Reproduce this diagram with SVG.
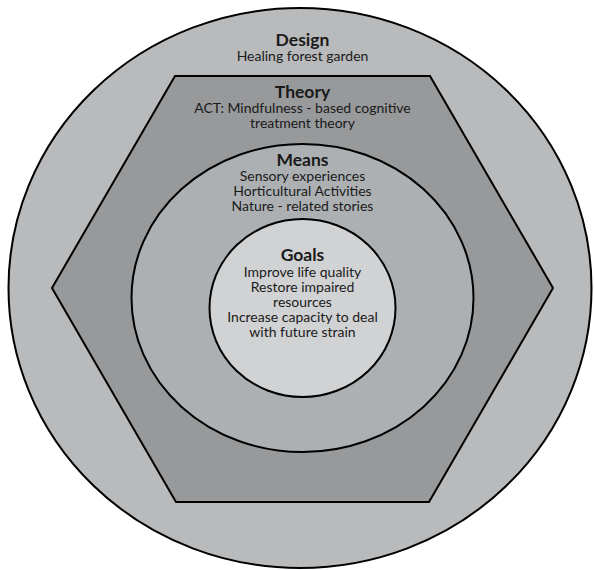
<svg xmlns="http://www.w3.org/2000/svg" width="594" height="570" viewBox="0 0 594 570">
<style>
.shape{stroke:#000;stroke-width:2}
.t{font-family:Lato,"Open Sans","DejaVu Sans",sans-serif;text-anchor:middle;fill:#1a1a1a}
.h{font-size:17.5px;font-weight:bold}
.b{font-size:14px}
</style>
<rect width="594" height="570" fill="#fff"/>
<g id="design">
<ellipse class="shape" cx="300" cy="288" rx="291.5" ry="280" fill="#b9babc"/>
<text class="t h" x="302.5" y="46">Design</text>
<text class="t b" x="302.5" y="61">Healing forest garden</text>
</g>
<g id="theory">
<polygon class="shape" points="175,76 430,76 553,288 429,502 176,502 52,288" fill="#97999b"/>
<text class="t h" x="302.5" y="98">Theory</text>
<text class="t b" x="302.5" y="113">ACT: Mindfulness - based cognitive</text>
<text class="t b" x="302.5" y="127.5">treatment theory</text>
</g>
<g id="means">
<ellipse class="shape" cx="302.5" cy="298" rx="171" ry="154" fill="#adb0b2"/>
<text class="t h" x="302.5" y="166">Means</text>
<text class="t b" x="302.5" y="181">Sensory experiences</text>
<text class="t b" x="302.5" y="196">Horticultural Activities</text>
<text class="t b" x="302.5" y="211">Nature - related stories</text>
</g>
<g id="goals">
<ellipse class="shape" cx="302.5" cy="308" rx="93" ry="89" fill="#d1d2d4"/>
<text class="t h" x="302.5" y="261">Goals</text>
<text class="t b" x="302.5" y="276.5">Improve life quality</text>
<text class="t b" x="302.5" y="291.5">Restore impaired</text>
<text class="t b" x="302.5" y="306.5">resources</text>
<text class="t b" x="302.5" y="322">Increase capacity to deal</text>
<text class="t b" x="302.5" y="337">with future strain</text>
</g>
<g id="connectors"/>
</svg>
